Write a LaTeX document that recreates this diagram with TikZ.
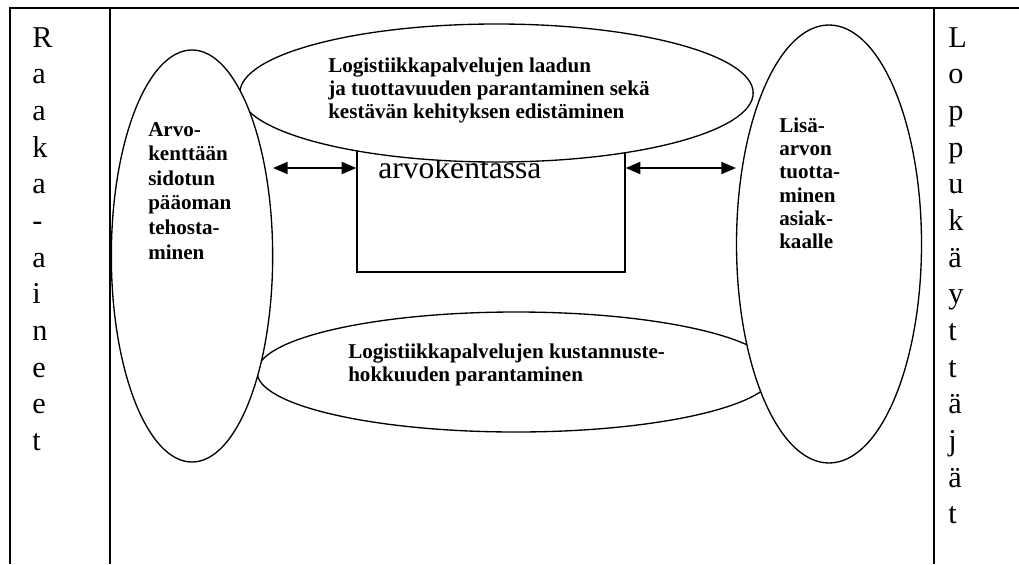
\documentclass[tikz,border=0pt]{standalone}
\usepackage{fontspec}
\setmainfont{Liberation Serif}
\usetikzlibrary{arrows.meta,shapes.geometric}
\tikzset{
  frame/.style={line width=1pt},
  oval/.style={draw, ellipse, line width=1pt, fill=white, inner sep=0pt},
  box/.style={draw, rectangle, line width=1pt, inner sep=0pt},
  lbl/.style={anchor=base west, inner sep=0pt, font=\fontsize{15.8}{17.5}\selectfont\bfseries},
  col/.style={anchor=base west, inner sep=0pt, font=\fontsize{22.7}{27.5}\selectfont},
  big/.style={anchor=base west, inner sep=0pt, font=\fontsize{23.7}{28}\selectfont},
  twoway/.style={{Triangle[length=11pt,width=9pt]}-{Triangle[length=11pt,width=9pt]}, line width=1.5pt},
}
\begin{document}
\begin{tikzpicture}[x=0.75pt,y=-0.75pt]
\useasboundingbox (0,0) rectangle (1019,564);
% table frame
\draw[frame] (10,564) -- (10,8) -- (1019,8);
\draw[frame] (110,8) -- (110,564);
\draw[frame] (934,8) -- (934,564);
% columns
\node[col] (raaka) at (32,47) {\vtop{\baselineskip=27.5pt\hbox{R}\hbox{a}\hbox{a}\hbox{k}\hbox{a}\hbox{-}\hbox{a}\hbox{i}\hbox{n}\hbox{e}\hbox{e}\hbox{t}}};
\node[col] (loppu) at (948,47) {\vtop{\baselineskip=27.5pt\hbox{L}\hbox{o}\hbox{p}\hbox{p}\hbox{u}\hbox{k}\hbox{ä}\hbox{y}\hbox{t}\hbox{t}\hbox{ä}\hbox{j}\hbox{ä}\hbox{t}}};
% central rectangle
\node[box, minimum width=201pt, minimum height=106.5pt] (rect) at (491,201) {};
\node[big] (arvo) at (378,178) {arvokentassa};
% top ellipse
\node[oval, minimum width=385pt, minimum height=103.5pt] (top) at (496.5,93) {};
\node[lbl] (toptxt) at (328,72) {\vtop{\baselineskip=17.5pt\hbox{Logistiikkapalvelujen laadun}\hbox{ja tuottavuuden parantaminen sekä}\hbox{kestävän kehityksen edistäminen}}};
% bottom ellipse
\node[oval, minimum width=388.5pt, minimum height=90pt] (bot) at (516,372) {};
\node[lbl] (bottxt) at (348,358) {\vtop{\baselineskip=17.5pt\hbox{Logistiikkapalvelujen kustannuste-}\hbox{hokkuuden parantaminen}}};
% left ellipse
\node[oval, minimum width=121pt, minimum height=309pt] (left) at (192,256) {};
\node[lbl] (lefttxt) at (148,136) {\vtop{\baselineskip=18.45pt\hbox{Arvo-}\hbox{kenttään}\hbox{sidotun}\hbox{pääoman}\hbox{tehosta-}\hbox{minen}}};
% right ellipse
\node[oval, minimum width=138.75pt, minimum height=328.5pt] (right) at (829,244) {};
\node[lbl] (righttxt) at (779,132) {\vtop{\baselineskip=17.5pt\hbox{Lisä-}\hbox{arvon}\hbox{tuotta-}\hbox{minen}\hbox{asiak-}\hbox{kaalle}}};
% arrows
\coordinate (la) at (273,168);
\coordinate (ra) at (736,168);
\draw[twoway] (la) -- (rect.west |- la);
\draw[twoway] (rect.east |- ra) -- (ra);
\end{tikzpicture}
\end{document}
